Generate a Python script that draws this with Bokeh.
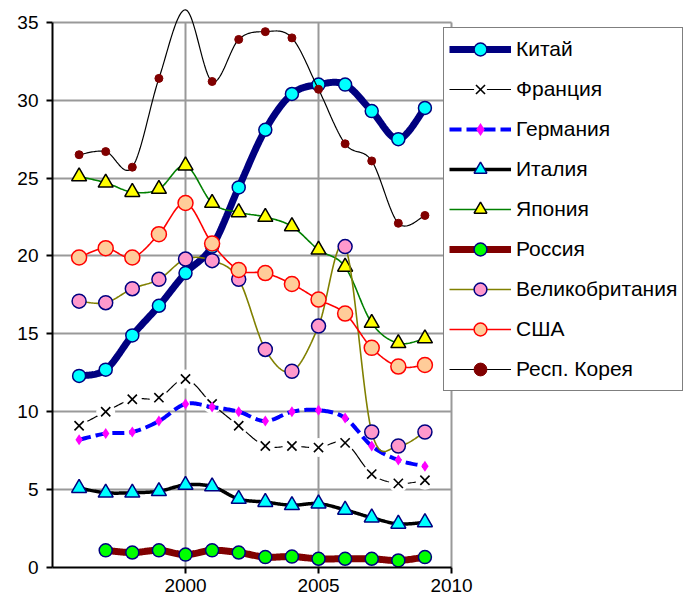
import numpy as np
from bokeh.plotting import figure
from bokeh.models import (Range1d, FixedTicker, Legend, LegendItem, ColumnDataSource,
                          CDSView, BooleanFilter)
from bokeh.embed import file_html
from bokeh.resources import INLINE

# ---------------- data ----------------
years = [1996, 1997, 1998, 1999, 2000, 2001, 2002, 2003, 2004, 2005, 2006, 2007, 2008, 2009]
russia_years = [1997, 1998, 1999, 2000, 2001, 2002, 2003, 2004, 2005, 2006, 2007, 2008, 2009]

china   = [12.3, 12.7, 14.9, 16.8, 18.9, 20.6, 24.4, 28.1, 30.4, 31.0, 31.0, 29.3, 27.5, 29.5]
france  = [9.1, 10.0, 10.8, 10.9, 12.1, 10.5, 9.1, 7.8, 7.8, 7.7, 8.0, 6.0, 5.4, 5.6]
germany = [8.2, 8.6, 8.7, 9.4, 10.5, 10.3, 10.0, 9.4, 10.0, 10.1, 9.6, 7.8, 6.9, 6.5]
italy   = [5.1, 4.8, 4.8, 4.9, 5.3, 5.2, 4.4, 4.2, 4.0, 4.1, 3.7, 3.2, 2.8, 2.9]
japan   = [25.1, 24.7, 24.1, 24.3, 25.8, 23.4, 22.8, 22.5, 21.9, 20.4, 19.3, 15.7, 14.4, 14.7]
russia  = [1.1, 0.96, 1.1, 0.83, 1.1, 0.96, 0.67, 0.7, 0.56, 0.56, 0.56, 0.45, 0.67]
uk      = [17.1, 17.0, 17.9, 18.5, 19.8, 19.7, 18.5, 14.0, 12.6, 15.5, 20.6, 8.7, 7.8, 8.7]
usa     = [19.9, 20.5, 19.9, 21.4, 23.4, 20.8, 19.1, 18.9, 18.2, 17.2, 16.3, 14.1, 12.9, 13.0]
korea   = [26.5, 26.7, 25.7, 31.4, 35.8, 31.2, 33.9, 34.4, 34.0, 30.7, 27.2, 26.1, 22.1, 22.6]

labels = ["Китай", "Франция", "Германия", "Италия", "Япония", "Россия",
          "Великобритания", "США", "Респ. Корея"]
x_ticks = [2000, 2005, 2010]
y_ticks = [0, 5, 10, 15, 20, 25, 30, 35]

FONT = "Liberation Sans"
X_MIN, X_MAX = 1995, 2010
Y_MIN, Y_MAX = 0, 35


def smooth(xs, ys, steps=24):
    """Excel-style smoothed line (cubic Bezier through the points)."""
    P = list(zip(xs, ys))
    n = len(P)
    ox, oy = [], []
    for i in range(n - 1):
        p0 = P[i - 1] if i > 0 else P[i]
        p1 = P[i]
        p2 = P[i + 1]
        p3 = P[i + 2] if i + 2 < n else P[i + 1]
        c1 = (p1[0] + (p2[0] - p0[0]) / 6, p1[1] + (p2[1] - p0[1]) / 6)
        c2 = (p2[0] - (p3[0] - p1[0]) / 6, p2[1] - (p3[1] - p1[1]) / 6)
        t = np.linspace(0, 1, steps, endpoint=(i == n - 2))
        a = (1 - t) ** 3
        b = 3 * (1 - t) ** 2 * t
        c = 3 * (1 - t) * t ** 2
        d = t ** 3
        ox.extend(a * p1[0] + b * c1[0] + c * c2[0] + d * p2[0])
        oy.extend(a * p1[1] + b * c1[1] + c * c2[1] + d * p2[1])
    return ox, oy


# frame spans the whole page; axes and grids are bounded to the data area
p = figure(width=687, height=601, output_backend="svg", toolbar_location=None,
           x_range=Range1d(X_MIN, 2018.87), y_range=Range1d(Y_MIN, 36.4),
           min_border_left=52, min_border_right=0, min_border_top=0,
           min_border_bottom=34)
p.outline_line_color = None
p.background_fill_color = "white"
p.border_fill_color = "white"

# grid
p.xgrid.ticker = FixedTicker(ticks=x_ticks)
p.ygrid.ticker = FixedTicker(ticks=y_ticks)
p.xgrid.cross_bounds = (Y_MIN, Y_MAX)
p.ygrid.cross_bounds = (X_MIN, X_MAX)
for g in (p.xgrid, p.ygrid):
    g.grid_line_color = "#999999"
    g.grid_line_width = 2

# axes
p.xaxis.ticker = FixedTicker(ticks=x_ticks)
p.yaxis.ticker = FixedTicker(ticks=y_ticks)
p.xaxis.bounds = (X_MIN, X_MAX)
p.yaxis.bounds = (Y_MIN, Y_MAX)
for ax in (p.xaxis, p.yaxis):
    ax.axis_line_color = "black"
    ax.axis_line_width = 2
    ax.major_tick_line_color = "black"
    ax.major_tick_line_width = 2
    ax.major_tick_out = 6
    ax.major_tick_in = 0
    ax.minor_tick_line_color = None
    ax.major_label_text_font = FONT
    ax.major_label_text_font_size = "19px"
    ax.major_label_text_color = "black"
p.xaxis.major_label_standoff = 5
p.yaxis.major_label_standoff = 8

items = []


def series(xs, ys, label, line_color, line_width, marker, size, fill, mline,
           mline_width=1.5, dash="solid", under=None):
    sx, sy = smooth(xs, ys)
    rs = [p.line(sx, sy, line_color=line_color, line_width=line_width, line_dash=dash)]
    src = ColumnDataSource(data=dict(x=xs, y=ys))
    # markers outside the value axis are not drawn (only the line is)
    view = CDSView(filter=BooleanFilter([Y_MIN <= v <= Y_MAX for v in ys]))
    if under is not None:
        rs.append(p.scatter("x", "y", source=src, view=view, marker="circle", size=under,
                            fill_color="white", line_color=None))
    rs.append(p.scatter("x", "y", source=src, view=view, marker=marker, size=size,
                        fill_color=fill, line_color=mline, line_width=mline_width))
    items.append(LegendItem(label=label, renderers=rs))


series(years, china, labels[0], "#000080", 7, "circle", 13, "#00FFFF", "#000080")
series(years, france, labels[1], "black", 1.2, "x", 13, None, "black", mline_width=1.6, under=19)
series(years, germany, labels[2], "#0000FF", 4, "diamond", 11, "#FF00FF", None, dash="12 5")
series(years, italy, labels[3], "black", 3.5, "triangle", 15, "#00FFFF", "#000080")
series(years, japan, labels[4], "#008000", 1.6, "triangle", 15, "#FFFF00", "black")
series(russia_years, russia, labels[5], "#800000", 7, "circle", 13, "#00FF00", "#000080")
series(years, uk, labels[6], "#808000", 1.6, "circle", 14, "#FF99CC", "#000080")
series(years, usa, labels[7], "#FF0000", 1.6, "circle", 15, "#FFCC99", "#FF0000")
series(years, korea, labels[8], "black", 1.2, "circle", 8, "#800000", "#800000", mline_width=1)

legend = Legend(items=items, location=(391, 176))
legend.border_line_color = "black"
legend.border_line_width = 1.5
legend.background_fill_color = "white"
legend.background_fill_alpha = 1
legend.label_text_font = FONT
legend.label_text_font_size = "21px"
legend.label_text_color = "black"
legend.glyph_width = 62
legend.glyph_height = 32
legend.label_height = 32
legend.spacing = 8
legend.padding = 5
legend.label_standoff = 5
legend.margin = 0
p.add_layout(legend)

open("out.html", "w").write(file_html(p, INLINE))
